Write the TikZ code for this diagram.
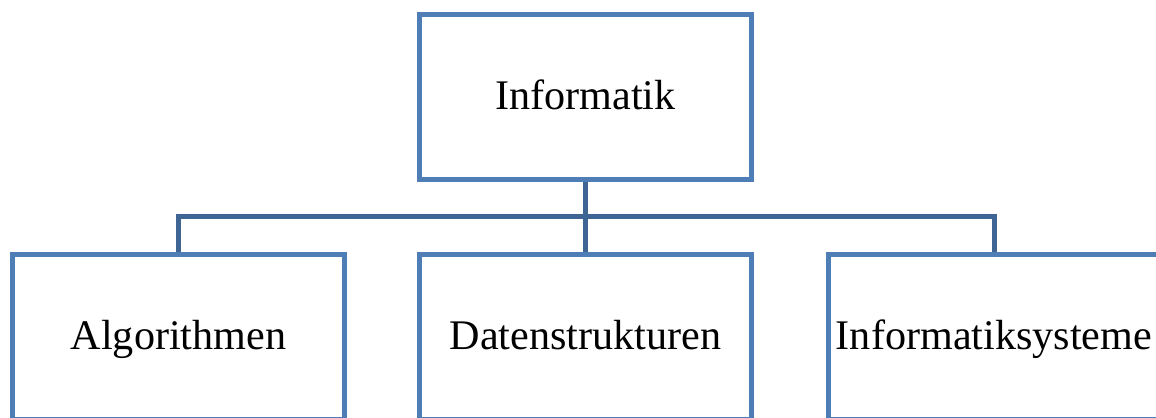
\documentclass[tikz,border=0pt]{standalone}
\usepackage{fontspec}
\setmainfont{Liberation Serif}
\usepackage{xcolor}
\definecolor{boxblue}{HTML}{4F7DB5}
\definecolor{linkblue}{HTML}{3F6595}

\begin{document}
\begin{tikzpicture}[x=0.02cm, y=0.02cm]
        \useasboundingbox (0, 0) rectangle (1156, -417);
        \clip (0, 0) rectangle (1156, -417);

        \begin{scope}[every node/.style = {rectangle, draw=boxblue, line width=0.1cm,
                inner sep=0pt, minimum width=6.64cm, minimum height=3.32cm,
                text height=0.48cm, text depth=0cm,
                font=\fontsize{24}{28}\selectfont}]
            \node (inf) at (585.5, -97)   {Informatik};
            \node (alg) at (178.5, -337)  {Algorithmen};
            \node (dat) at (585.5, -337)  {Datenstrukturen};
            \node (sys) at (994, -337)    {Informatiksysteme};
        \end{scope}

        \coordinate (bus) at (585.5, -216);

        \begin{scope}[every path/.style={draw=linkblue, line width=0.1cm}]
                \path (inf.south) -- (dat.north);
                \path (alg.north) -- (alg.north |- bus) -- (sys.north |- bus) -- (sys.north);
        \end{scope}
    \end{tikzpicture}
\end{document}
